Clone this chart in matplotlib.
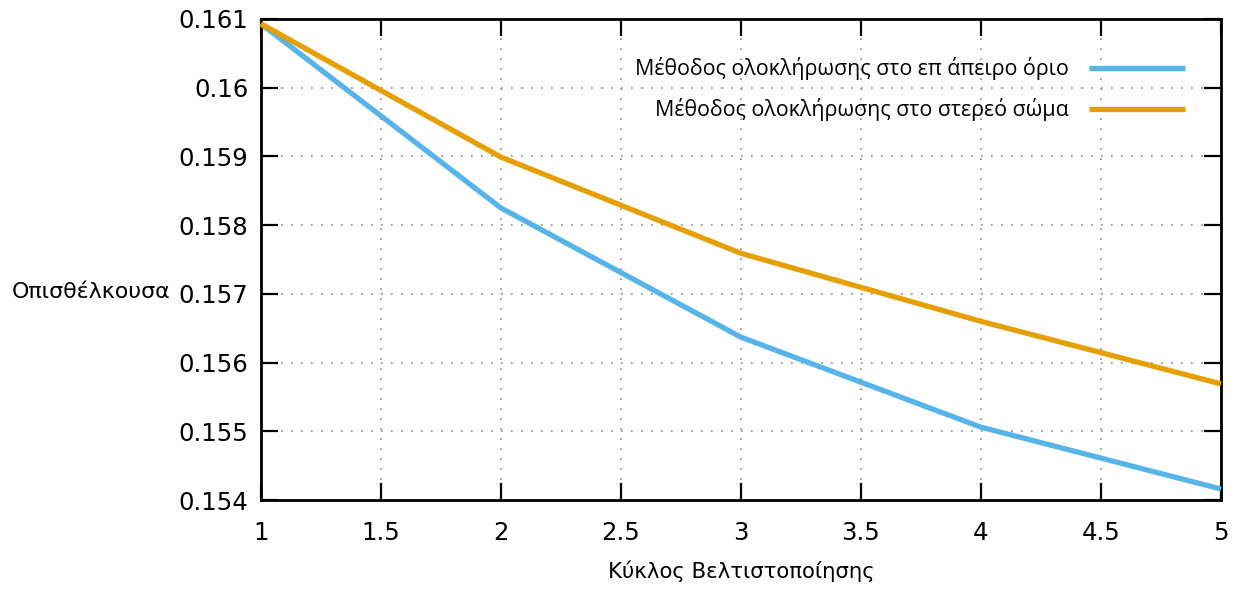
import matplotlib
matplotlib.use('Agg')
from matplotlib import pyplot as plt

plt.rcParams['font.family'] = ['DejaVu Sans']

# κύκλοι βελτιστοποίησης και τιμές οπισθέλκουσας
cycles = [1, 2, 3, 4, 5]
drag_infinity = [0.16093, 0.15825, 0.15637, 0.15506, 0.15416]
drag_solid = [0.16093, 0.15899, 0.15759, 0.15660, 0.15569]
labels = ['Μέθοδος ολοκλήρωσης στο επ άπειρο όριο',
          'Μέθοδος ολοκλήρωσης στο στερεό σώμα']

fig = plt.figure(figsize=(12.42, 5.9), dpi=100)
ax = fig.add_axes([0.2101, 0.1525, 0.7730, 0.8153])

ax.plot(cycles, drag_infinity, color='#56B4E9', lw=3.8, label=labels[0],
        solid_capstyle='butt', clip_on=False, zorder=3)
ax.plot(cycles, drag_solid, color='#E69F00', lw=3.8, label=labels[1],
        solid_capstyle='butt', clip_on=False, zorder=3)

ax.set_xlim(1, 5)
ax.set_ylim(0.154, 0.161)
ax.set_xticks([1, 1.5, 2, 2.5, 3, 3.5, 4, 4.5, 5])
ax.set_xticklabels(['1', '1.5', '2', '2.5', '3', '3.5', '4', '4.5', '5'])
yt = [0.154, 0.155, 0.156, 0.157, 0.158, 0.159, 0.16, 0.161]
ax.set_yticks(yt)
ax.set_yticklabels(['0.154', '0.155', '0.156', '0.157', '0.158', '0.159', '0.16', '0.161'])
ax.tick_params(direction='in', length=12, width=1.6, labelsize=17.6,
               top=True, right=True)
ax.tick_params(axis='y', pad=9)
ax.tick_params(axis='x', pad=15)
for s in ax.spines.values():
    s.set_linewidth(2)
ax.grid(True, linestyle=(0, (1, 5)), color='#888888', lw=1.2)

ax.set_xlabel('Κύκλος Βελτιστοποίησης', fontsize=15.3, labelpad=11)
fig.text(12 / 1242, 1 - 292 / 590, 'Οπισθέλκουσα', fontsize=15.9,
         ha='left', va='center')

leg = ax.legend(loc='upper right', frameon=False, markerfirst=False,
                handlelength=4.5, labelspacing=0.85, borderpad=0,
                borderaxespad=0, bbox_to_anchor=(0.9625, 0.921),
                handletextpad=0.95, prop={'family': 'Open Sans', 'size': 15.4})

fig.savefig('out.png', dpi=100)
